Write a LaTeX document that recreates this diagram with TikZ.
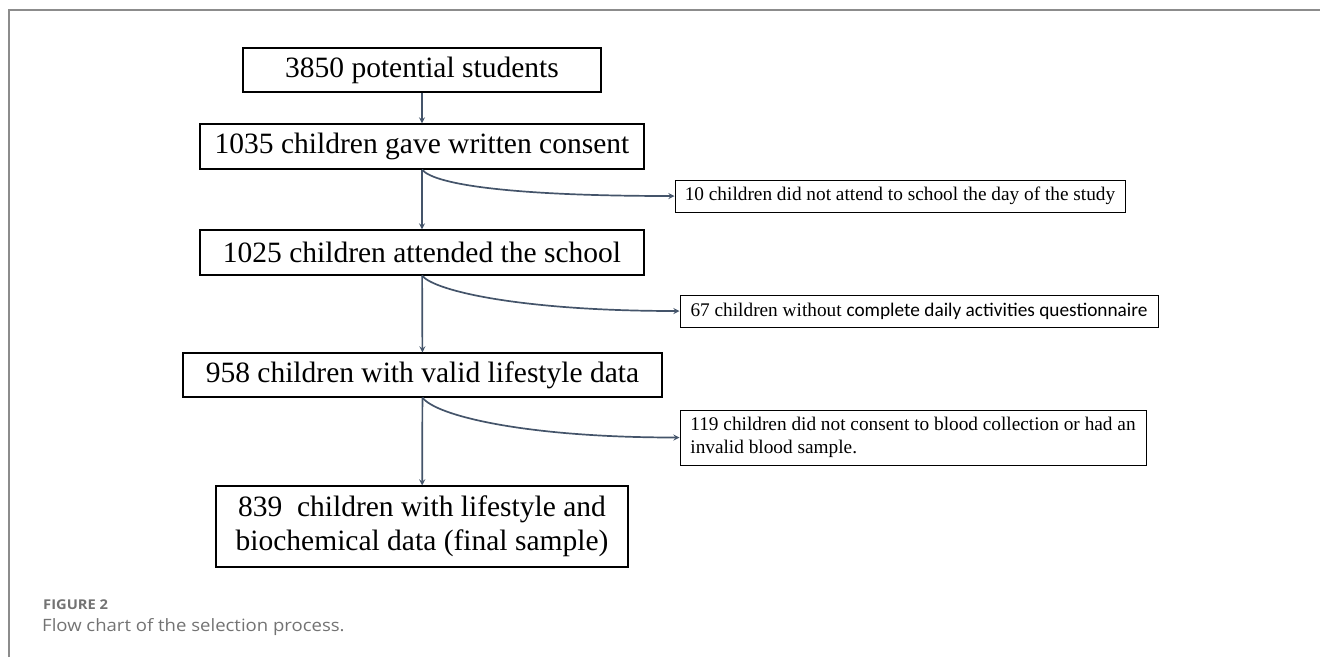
\documentclass[tikz,border=0pt]{standalone}
\usepackage{fontspec}
\setmainfont{Liberation Serif}
\newfontfamily\capfont[FakeStretch=1.09]{Open Sans}
\newfontfamily\calfont{Carlito}
\definecolor{arrowblue}{RGB}{68,84,106}
\definecolor{framegray}{RGB}{140,140,140}
\definecolor{capgray}{RGB}{115,115,115}
\begin{document}
\begin{tikzpicture}[x=1pt,y=-1pt,
    bigbox/.style={draw, line width=1.1pt, inner sep=0pt, font=\fontsize{29.5}{34}\selectfont},
    smallbox/.style={draw, line width=1pt, inner sep=0pt, font=\fontsize{19.3}{23}\selectfont},
    flow/.style={-stealth, line width=1.7pt, color=arrowblue}]
                \useasboundingbox (0,0) rectangle (1320,657);
                % frame of the figure
                \draw[framegray, line width=2pt] (9,657) -- (9,10) -- (1320,10);

                % main column
                \node[bigbox, minimum width=358pt, minimum height=44pt] (start) at (422,70) {3850 potential students};
                \node[bigbox, minimum width=444pt, minimum height=45pt] (consent) at (422,146.5) {1035 children gave written consent};
                \node[bigbox, minimum width=444pt, minimum height=45pt] (attend) at (422,252.5) {1025 children attended the school};
                \node[bigbox, minimum width=479pt, minimum height=44pt] (valid) at (422.5,375) {958 children with valid lifestyle data};
                \node[bigbox, minimum width=412pt, minimum height=81pt, align=center] (final) at (422,526.5) {839\ \ children with lifestyle and\\biochemical data (final sample)};

                % excluded
                \node[smallbox, minimum width=450pt, minimum height=32pt] (absent) at (900,196) {10 children did not attend to school the day of the study};
                \node[smallbox, minimum width=478pt, minimum height=32pt] (noquest) at (919,311) {67 children without {\calfont complete daily activities questionnaire}};
                \node[smallbox, minimum width=466pt, minimum height=55pt, align=left] (noblood) at (913,437.5) {119 children did not consent to blood collection or had an\\invalid blood sample.};

                \draw[flow] (start) -- (consent);
                \draw[flow] (consent) -- (attend);
                \draw[flow] (attend) -- (valid);
                \draw[flow] (valid) -- (final);

                \draw[flow] (consent.south) .. controls +(13,16) and +(-155,0) .. (absent.west);
                \draw[flow] (attend.south) .. controls +(13,16) and +(-155,0) .. (noquest.west);
                \draw[flow] (valid.south) .. controls +(13,18) and +(-155,0) .. (noblood.west);

                % caption
                \node[anchor=base west, text=capgray, font=\capfont\bfseries\fontsize{13.5}{16}\selectfont, inner sep=0pt] (figno) at (43,609) {FIGURE 2};
                \node[anchor=base west, text=capgray, font=\capfont\fontsize{17}{20}\selectfont, inner sep=0pt] (caption) at (42,631) {Flow chart of the selection process.};
            \end{tikzpicture}
\end{document}
